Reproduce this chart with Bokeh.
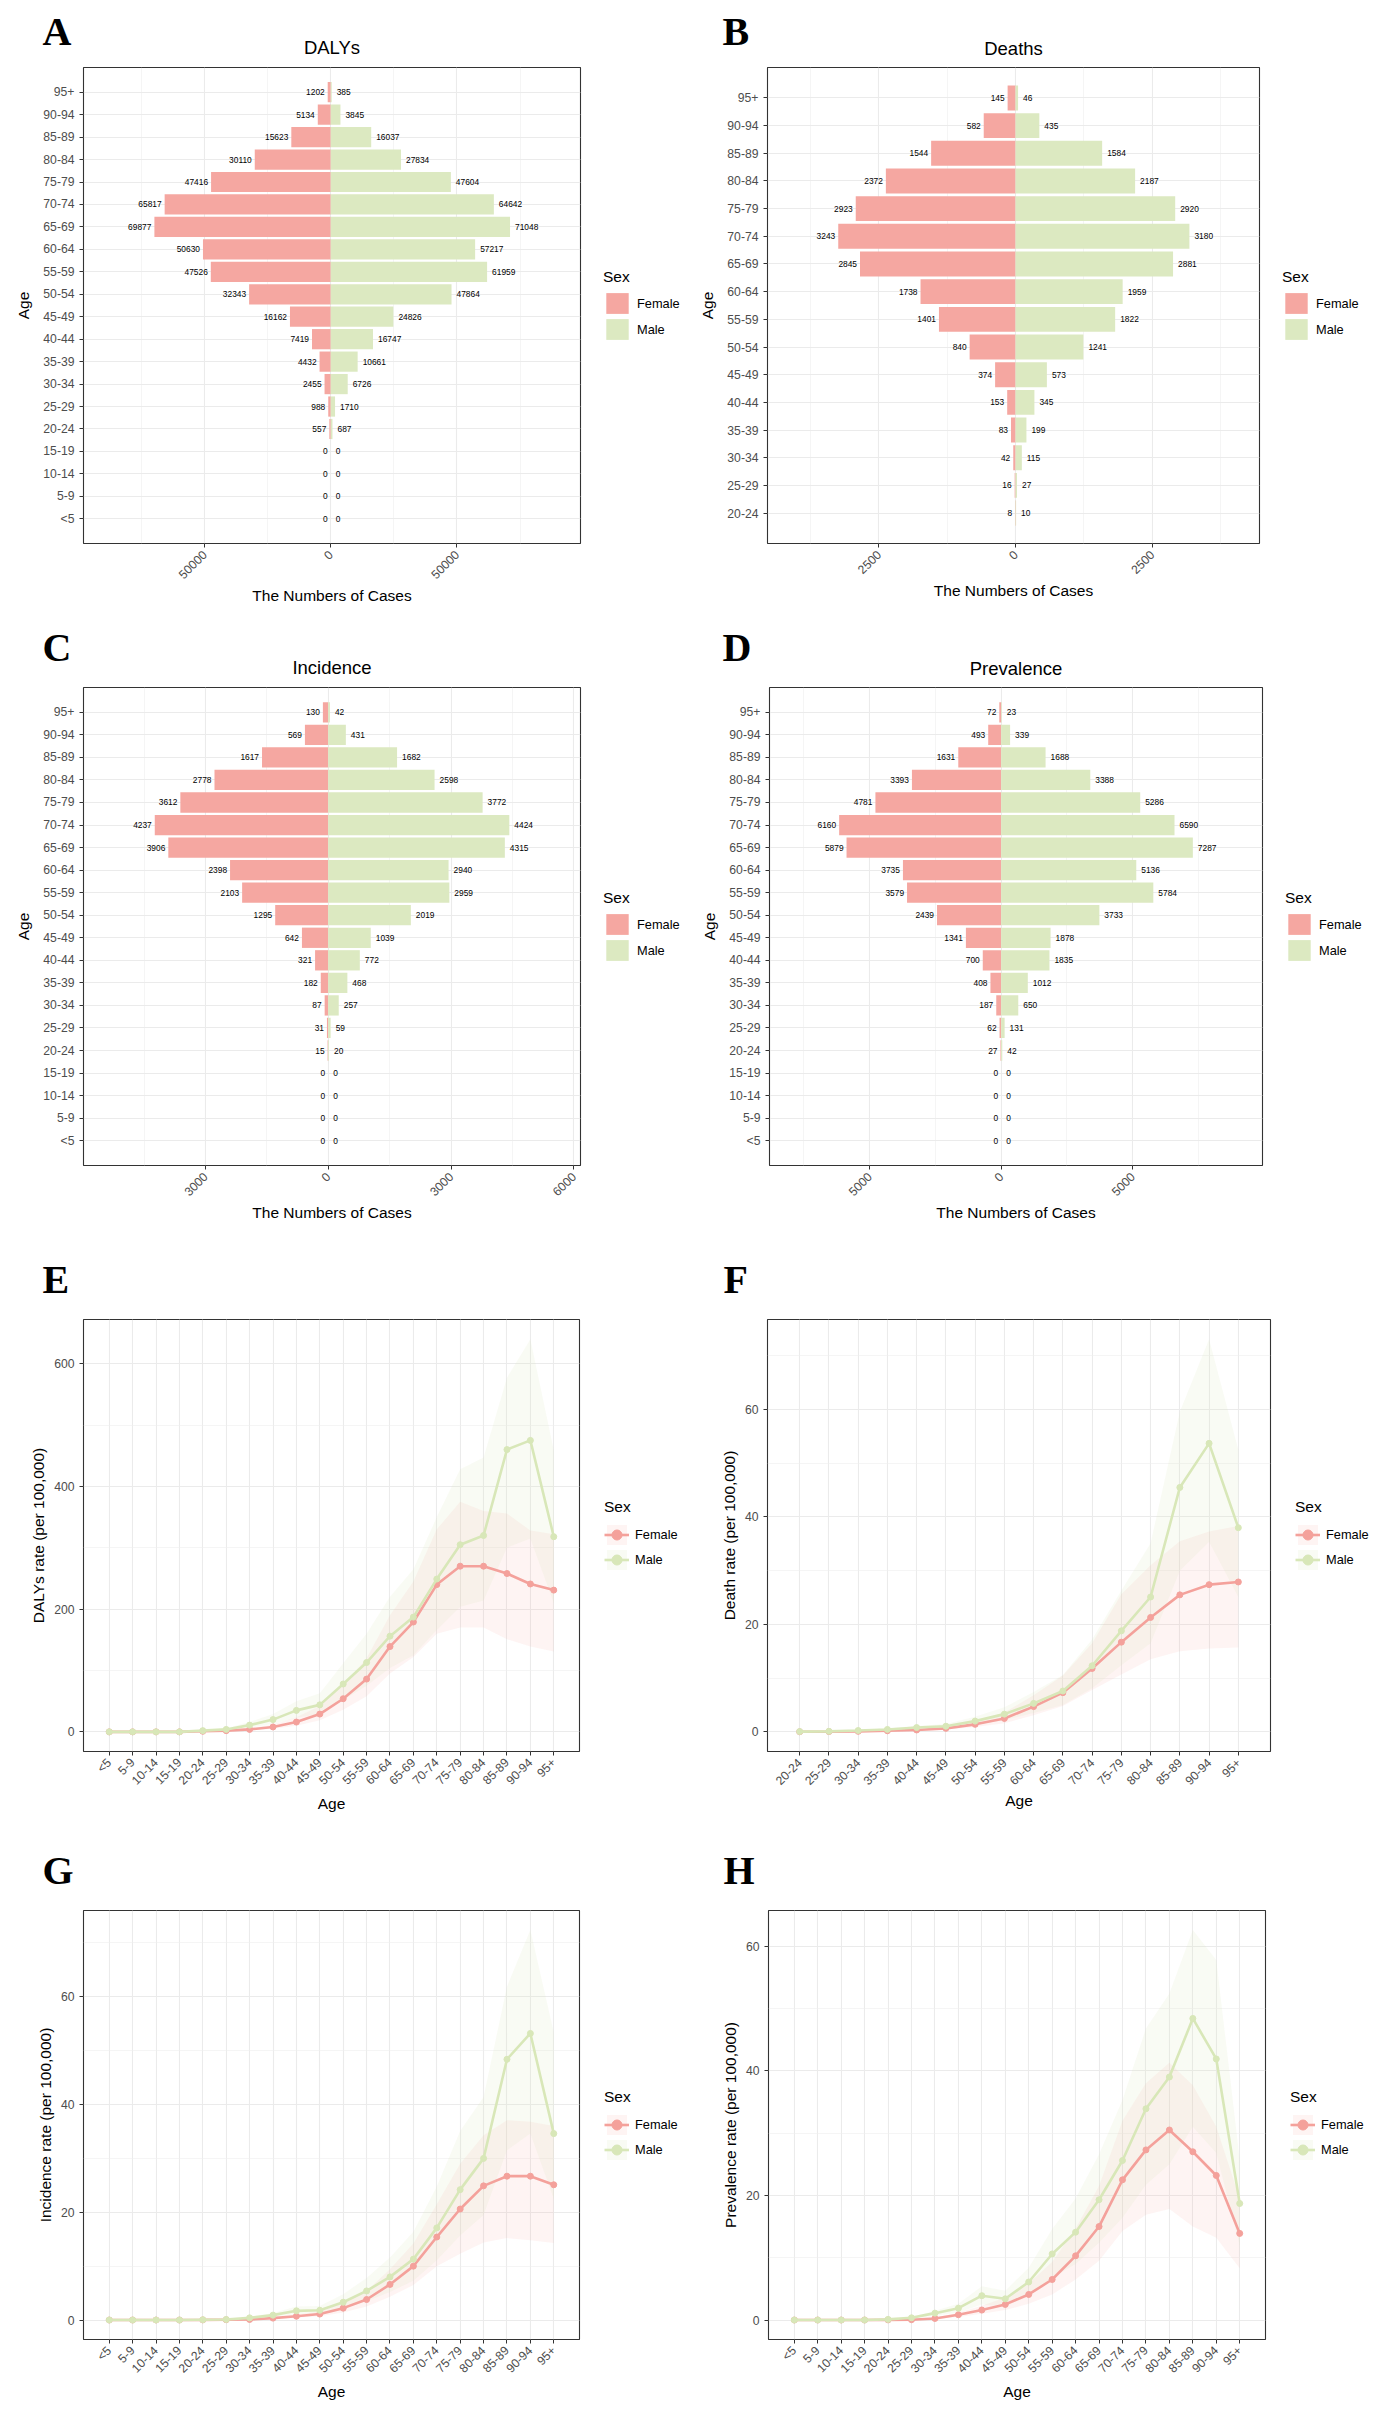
import math
from bokeh.plotting import figure
from bokeh.models import (ColumnDataSource, FactorRange, Range1d, FixedTicker, Label,
                          Legend, LegendItem, CustomJSTickFormatter)
from bokeh.layouts import column, row
from bokeh.embed import file_html
from bokeh.resources import INLINE
from bokeh.core.properties import value

# ---------------- data ----------------
ages20 = ["<5", "5-9", "10-14", "15-19", "20-24", "25-29", "30-34", "35-39", "40-44", "45-49",
          "50-54", "55-59", "60-64", "65-69", "70-74", "75-79", "80-84", "85-89", "90-94", "95+"]
ages16 = ["20-24", "25-29", "30-34", "35-39", "40-44", "45-49", "50-54", "55-59", "60-64",
          "65-69", "70-74", "75-79", "80-84", "85-89", "90-94", "95+"]

# Panel A: DALYs numbers
dalys_female = [0, 0, 0, 0, 557, 988, 2455, 4432, 7419, 16162, 32343, 47526, 50630, 69877, 65817, 47416, 30110, 15623, 5134, 1202]
dalys_male = [0, 0, 0, 0, 687, 1710, 6726, 10661, 16747, 24826, 47864, 61959, 57217, 71048, 64642, 47604, 27834, 16037, 3845, 385]
# Panel B: Deaths numbers (20-24 .. 95+)
deaths_female = [8, 16, 42, 83, 153, 374, 840, 1401, 1738, 2845, 3243, 2923, 2372, 1544, 582, 145]
deaths_male = [10, 27, 115, 199, 345, 573, 1241, 1822, 1959, 2881, 3180, 2920, 2187, 1584, 435, 46]
# Panel C: Incidence numbers
inc_female = [0, 0, 0, 0, 15, 31, 87, 182, 321, 642, 1295, 2103, 2398, 3906, 4237, 3612, 2778, 1617, 569, 130]
inc_male = [0, 0, 0, 0, 20, 59, 257, 468, 772, 1039, 2019, 2959, 2940, 4315, 4424, 3772, 2598, 1682, 431, 42]
# Panel D: Prevalence numbers
prev_female = [0, 0, 0, 0, 27, 62, 187, 408, 700, 1341, 2439, 3579, 3735, 5879, 6160, 4781, 3393, 1631, 493, 72]
prev_male = [0, 0, 0, 0, 42, 131, 650, 1012, 1835, 1878, 3733, 5784, 5136, 7287, 6590, 5286, 3388, 1688, 339, 23]

# Panel E: DALYs rate
e_f = [0, 0, 0, 0, 1, 2, 4, 8, 16, 29, 54, 86, 139, 179, 240, 270, 270, 258, 241, 231]
e_f_lo = [0, 0, 0, 0, 0.5, 1, 2.5, 5, 10, 19, 36, 58, 95, 122, 160, 170, 170, 151, 139, 131]
e_f_hi = [0, 0, 0, 0, 1.5, 3, 6, 12, 24, 42, 76, 120, 190, 245, 330, 375, 360, 356, 328, 322]
e_m = [0, 0, 0, 0, 2, 4, 11, 20, 35, 44, 78, 113, 156, 187, 249, 305, 320, 460, 475, 318]
e_m_lo = [0, 0, 0, 0, 1, 2, 7, 13, 23, 29, 52, 75, 104, 125, 166, 204, 214, 300, 315, 210]
e_m_hi = [0, 0, 0, 0, 3, 6, 16, 29, 50, 63, 112, 160, 220, 265, 350, 428, 447, 577, 640, 459]

# Panel F: Death rate (20-24 .. 95+)
f_f = [0.02, 0.05, 0.1, 0.2, 0.35, 0.65, 1.4, 2.5, 4.7, 7.3, 11.8, 16.7, 21.3, 25.5, 27.4, 27.9]
f_f_lo = [0.01, 0.03, 0.06, 0.13, 0.23, 0.43, 0.9, 1.6, 3.1, 4.8, 7.8, 10.7, 13.5, 15.0, 15.5, 15.7]
f_f_hi = [0.03, 0.07, 0.15, 0.3, 0.5, 0.95, 2.0, 3.6, 6.8, 10.5, 16.5, 25.6, 31.0, 35.5, 37.3, 38.3]
f_m = [0.05, 0.1, 0.25, 0.45, 0.8, 1.05, 2.0, 3.3, 5.3, 7.6, 12.3, 18.8, 25.1, 45.5, 53.7, 38.0]
f_m_lo = [0.03, 0.06, 0.16, 0.3, 0.52, 0.7, 1.3, 2.2, 3.5, 5.0, 8.1, 12.4, 16.5, 30.0, 35.4, 25.1]
f_m_hi = [0.07, 0.14, 0.35, 0.63, 1.1, 1.45, 2.8, 4.6, 7.4, 10.6, 17.2, 26.3, 35.1, 59.6, 73.1, 52.5]

# Panel G: Incidence rate
g_f = [0, 0, 0, 0, 0.02, 0.05, 0.1, 0.35, 0.7, 1.1, 2.2, 3.8, 6.6, 10.0, 15.4, 20.6, 24.9, 26.7, 26.7, 25.1]
g_f_lo = [0, 0, 0, 0, 0.01, 0.03, 0.06, 0.22, 0.45, 0.7, 1.4, 2.5, 4.3, 6.5, 10.0, 12.3, 14.4, 15.2, 14.8, 14.3]
g_f_hi = [0, 0, 0, 0, 0.03, 0.08, 0.15, 0.5, 1.0, 1.6, 3.1, 5.4, 9.4, 14.2, 21.5, 29.0, 34.3, 37.1, 36.8, 36.0]
g_m = [0, 0, 0, 0, 0.05, 0.1, 0.4, 0.9, 1.7, 1.8, 3.3, 5.4, 8.0, 11.3, 17.1, 24.2, 30.0, 48.4, 53.2, 34.6]
g_m_lo = [0, 0, 0, 0, 0.03, 0.06, 0.25, 0.57, 1.1, 1.15, 2.1, 3.5, 5.2, 7.3, 11.1, 15.7, 19.5, 31.5, 34.6, 22.5]
g_m_hi = [0, 0, 0, 0, 0.08, 0.15, 0.6, 1.3, 2.5, 2.6, 4.8, 7.8, 11.6, 16.4, 24.8, 35.1, 41.4, 61.9, 72.4, 53.4]

# Panel H: Prevalence rate
h_f = [0, 0, 0, 0, 0.02, 0.05, 0.25, 0.85, 1.6, 2.5, 4.1, 6.5, 10.3, 15.0, 22.5, 27.3, 30.5, 27.0, 23.2, 13.9]
h_f_lo = [0, 0, 0, 0, 0.01, 0.03, 0.15, 0.5, 1.0, 1.6, 2.6, 4.1, 6.5, 9.5, 14.3, 16.9, 17.8, 15.0, 13.2, 8.3]
h_f_hi = [0, 0, 0, 0, 0.03, 0.08, 0.35, 1.2, 2.3, 3.6, 5.9, 9.3, 14.7, 21.5, 32.0, 38.0, 41.3, 37.7, 31.0, 19.5]
h_m = [0, 0, 0, 0, 0.1, 0.35, 1.1, 1.9, 3.9, 3.4, 6.1, 10.6, 14.1, 19.3, 25.6, 33.9, 39.0, 48.4, 41.9, 18.7]
h_m_lo = [0, 0, 0, 0, 0.06, 0.22, 0.7, 1.2, 2.5, 2.2, 3.9, 6.8, 9.0, 12.4, 16.4, 21.7, 25.0, 31.0, 26.8, 12.0]
h_m_hi = [0, 0, 0, 0, 0.14, 0.5, 1.5, 2.6, 5.4, 4.7, 8.4, 14.6, 19.5, 26.6, 35.3, 46.8, 52.4, 62.6, 57.8, 25.8]

# ---------------- style ----------------
FEM_BAR = "#F5A7A1"
MAL_BAR = "#DCE9C1"
FEM_LINE = "#F4A19B"
MAL_LINE = "#D8E7B8"
FEM_BAND_ALPHA = 0.12
MAL_BAND_ALPHA = 0.16
SANS = "Liberation Sans"
SERIF = "Liberation Serif"
W = 693
RB = 5  # right border of each main plot


def bare_figure(width, height, **kw):
    f = figure(width=width, height=height, x_range=Range1d(0, 1), y_range=Range1d(0, 1),
               output_backend="svg", toolbar_location=None, x_axis_location=None, y_axis_location=None,
               title_location=None, outline_line_color=None, **kw)
    f.grid.visible = False
    return f


def base_style(p):
    p.outline_line_color = "#333333"
    p.outline_line_width = 1.1
    for ax in list(p.xaxis) + list(p.yaxis):
        ax.axis_line_color = None
        ax.major_tick_line_color = "#333333"
        ax.major_tick_out = 4
        ax.major_tick_in = 0
        ax.minor_tick_line_color = None
        ax.major_label_text_font = SANS
        ax.major_label_text_font_size = "12.2px"
        ax.major_label_text_color = "#4D4D4D"
        ax.axis_label_text_font = SANS
        ax.axis_label_text_font_size = "15.5px"
        ax.axis_label_text_font_style = "normal"
        ax.axis_label_text_color = "black"
    for g in p.grid:
        g.grid_line_color = "#EBEBEB"
        g.grid_line_width = 1.1
        g.minor_grid_line_color = "#EFEFEF"
        g.minor_grid_line_width = 0.6


def header_row(hh, letters, titles):
    """One full-width strip holding the panel letters and panel titles of a row.
    Positions are (x, vertical centre measured from the top of the strip)."""
    h = bare_figure(2 * W, hh, min_border=0)
    h.x_range = Range1d(0, 2 * W)
    h.y_range = Range1d(0, hh)
    for (txt, x, yc) in letters:
        h.add_layout(Label(x=x, y=hh - yc, text=txt, text_font=SERIF, text_font_style="bold",
                           text_font_size="40px", text_baseline="middle", text_align="left",
                           text_color="black"))
    for (txt, x, yc) in titles:
        h.add_layout(Label(x=x, y=hh - yc, text=txt, text_font=SANS, text_font_size="18.5px",
                           text_baseline="middle", text_align="center", text_color="black"))
    return h


def legend_fig(width, height, top_b, bottom_b, kind, margin):
    """Strip to the right of a panel that carries the 'Sex' legend."""
    lf = bare_figure(width, height, min_border_left=0, min_border_right=0,
                     min_border_top=top_b, min_border_bottom=bottom_b)
    if kind == "bar":
        r1 = lf.hbar(y=[5], left=[5], right=[6], height=0.9, fill_color=FEM_BAR, line_color=None)
        r2 = lf.hbar(y=[5], left=[5], right=[6], height=0.9, fill_color=MAL_BAR, line_color=None)
        items = [LegendItem(label="Female", renderers=[r1]), LegendItem(label="Male", renderers=[r2])]
        gw, gh, ts = 28, 26, 4
    else:
        rs = []
        for col, alpha in ((FEM_LINE, FEM_BAND_ALPHA), (MAL_LINE, MAL_BAND_ALPHA)):
            b = lf.varea(x=[5, 6], y1=[5, 5], y2=[6, 6], fill_color=col, fill_alpha=alpha)
            l = lf.line(x=[5, 6], y=[5, 5], line_color=col, line_width=2.6)
            s = lf.scatter(x=[5], y=[5], size=6, fill_color=col, line_color=col)
            rs.append([b, l, s])
        items = [LegendItem(label="Female", renderers=rs[0]), LegendItem(label="Male", renderers=rs[1])]
        gw, gh, ts = 25, 25, 6
    legend = Legend(items=items, location="center_left", title="Sex",
                    title_text_font=SANS, title_text_font_size="15.5px", title_text_font_style="normal",
                    title_text_color="black",
                    label_text_font=SANS, label_text_font_size="12.8px", label_text_color="black",
                    glyph_width=gw, glyph_height=gh, spacing=0, label_standoff=6, title_standoff=ts,
                    padding=0, margin=margin, border_line_color=None, background_fill_alpha=0)
    lf.add_layout(legend)
    return lf


def pyramid(ages, female, male, H, hh, L, R, T, B, xr, ticks, minor):
    src = ColumnDataSource(dict(age=ages, fneg=[-v for v in female], m=male,
                                fl=[str(v) for v in female], ml=[str(v) for v in male]))
    p = figure(width=R + RB, height=H - hh, x_range=Range1d(*xr),
               y_range=FactorRange(factors=ages, range_padding=0.6, range_padding_units="absolute"),
               output_backend="svg", toolbar_location=None, title_location=None,
               min_border_left=L, min_border_right=RB, min_border_top=T - hh, min_border_bottom=H - B)
    p.hbar(y="age", left="fneg", right=0, height=0.9, source=src, fill_color=FEM_BAR, line_color=None)
    p.hbar(y="age", left=0, right="m", height=0.9, source=src, fill_color=MAL_BAR, line_color=None)
    p.text(x="fneg", y="age", text="fl", source=src, text_align="right", text_baseline="middle",
           x_offset=-3, text_font_size="8.4px", text_font=value(SANS), text_color="black")
    p.text(x="m", y="age", text="ml", source=src, text_align="left", text_baseline="middle",
           x_offset=5, text_font_size="8.4px", text_font=value(SANS), text_color="black")
    p.xaxis.ticker = FixedTicker(ticks=ticks, minor_ticks=minor)
    p.xaxis.formatter = CustomJSTickFormatter(code="return Math.abs(tick).toString();")
    p.xaxis.major_label_orientation = math.pi / 4
    p.xaxis.axis_label = "The Numbers of Cases"
    p.yaxis.axis_label = "Age"
    base_style(p)
    p.ygrid.minor_grid_line_color = None
    p.yaxis.axis_label_standoff = 8
    p.xaxis.axis_label_standoff = 1
    lg = legend_fig(W - R - RB, H - hh, T - hh, H - B, "bar", 18)
    return [p, lg]


def lineplot(ages, f, flo, fhi, m, mlo, mhi, ylabel, H, hh, L, R, T, B, yticks, yminor):
    src = ColumnDataSource(dict(age=ages, f=f, flo=flo, fhi=fhi, m=m, mlo=mlo, mhi=mhi))
    hi = max(max(fhi), max(mhi))
    lo = 0
    pad = 0.05 * (hi - lo)
    p = figure(width=R + RB, height=H - hh,
               x_range=FactorRange(factors=ages, range_padding=0.6, range_padding_units="absolute"),
               y_range=Range1d(lo - pad, hi + pad),
               output_backend="svg", toolbar_location=None, title_location=None,
               min_border_left=L, min_border_right=RB, min_border_top=T - hh, min_border_bottom=H - B)
    p.varea(x="age", y1="flo", y2="fhi", source=src, fill_color=FEM_LINE, fill_alpha=FEM_BAND_ALPHA)
    p.varea(x="age", y1="mlo", y2="mhi", source=src, fill_color=MAL_LINE, fill_alpha=MAL_BAND_ALPHA)
    p.line(x="age", y="f", source=src, line_color=FEM_LINE, line_width=2.6)
    p.scatter(x="age", y="f", source=src, size=6, fill_color=FEM_LINE, line_color=FEM_LINE)
    p.line(x="age", y="m", source=src, line_color=MAL_LINE, line_width=2.6)
    p.scatter(x="age", y="m", source=src, size=6, fill_color=MAL_LINE, line_color=MAL_LINE)
    p.yaxis.ticker = FixedTicker(ticks=yticks, minor_ticks=yminor)
    p.xaxis.major_label_orientation = math.pi / 4
    p.xaxis.axis_label = "Age"
    p.yaxis.axis_label = ylabel
    base_style(p)
    p.xgrid.minor_grid_line_color = None
    p.yaxis.axis_label_standoff = 4
    p.xaxis.axis_label_standoff = 0
    lg = legend_fig(W - R - RB, H - hh, T - hh, H - B, "line", 20)
    return [p, lg]


# row 1 (height 619)
h1 = header_row(64, [("A", 42, 30.5), ("B", W + 29, 30.6)],
                [("DALYs", (83 + 580) / 2, 46.7), ("Deaths", W + (74 + 566) / 2, 47.8)])
pA = pyramid(ages20, dalys_female, dalys_male, 619, 64, 83, 580, 66, 543,
             (-97970, 98970), [-50000, 0, 50000], [-75000, -25000, 25000, 75000])
pB = pyramid(ages16, deaths_female, deaths_male, 619, 64, 74, 566, 67, 543,
             (-4537, 4462), [-2500, 0, 2500], [-3750, -1250, 1250, 3750])
# row 2 (height 630)
h2 = header_row(64, [("C", 42, 27.6), ("D", W + 29, 27.6)],
                [("Incidence", (83 + 580) / 2, 47.7), ("Prevalence", W + (76 + 569) / 2, 49.2)])
pC = pyramid(ages20, inc_female, inc_male, 630, 64, 83, 580, 66, 549,
             (-5978, 6163), [-3000, 0, 3000, 6000], [-4500, -1500, 1500, 4500])
pD = pyramid(ages20, prev_female, prev_male, 630, 64, 76, 569, 68, 546,
             (-8808, 9935), [-5000, 0, 5000], [-7500, -2500, 2500, 7500])
# row 3 (height 589)
h3 = header_row(64, [("E", 42, 30.3), ("F", W + 30, 30.3)], [])
pE = lineplot(ages20, e_f, e_f_lo, e_f_hi, e_m, e_m_lo, e_m_hi, "DALYs rate (per 100,000)",
              589, 64, 83, 579, 66, 502, [0, 200, 400, 600], [100, 300, 500])
pF = lineplot(ages16, f_f, f_f_lo, f_f_hi, f_m, f_m_lo, f_m_hi, "Death rate (per 100,000)",
              589, 64, 74, 577, 70, 502, [0, 20, 40, 60], [10, 30, 50, 70])
# row 4 (height 579)
h4 = header_row(70, [("G", 42, 31.5), ("H", W + 30, 31.5)], [])
pG = lineplot(ages20, g_f, g_f_lo, g_f_hi, g_m, g_m_lo, g_m_hi, "Incidence rate (per 100,000)",
              579, 70, 83, 579, 72, 501, [0, 20, 40, 60], [10, 30, 50, 70])
pH = lineplot(ages20, h_f, h_f_lo, h_f_hi, h_m, h_m_lo, h_m_hi, "Prevalence rate (per 100,000)",
              579, 70, 75, 572, 72, 501, [0, 20, 40, 60], [10, 30, 50])

layout = column(h1, row(*pA, *pB), h2, row(*pC, *pD), h3, row(*pE, *pF), h4, row(*pG, *pH))
open("out.html", "w").write(file_html(layout, INLINE))
